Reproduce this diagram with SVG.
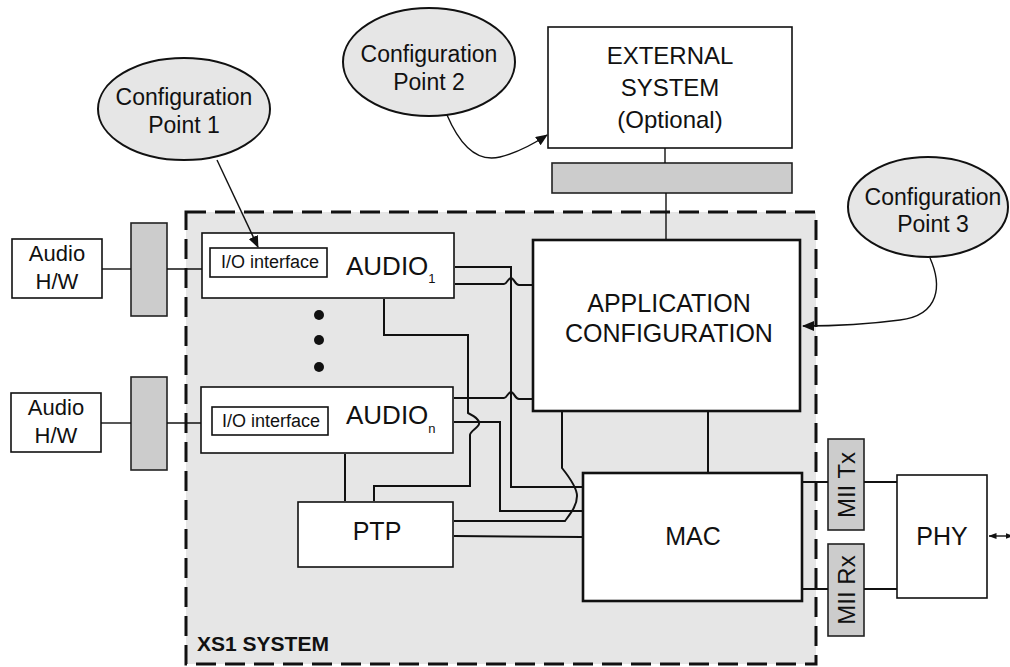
<svg xmlns="http://www.w3.org/2000/svg" width="1010" height="667" viewBox="0 0 1010 667">
  <style>
    text { font-family: "Liberation Sans", Arial, sans-serif; fill: #111; }
    .box { fill: #fff; stroke: #111; stroke-width: 1.6; }
    .bold-box { fill: #fff; stroke: #111; stroke-width: 2.6; }
    .bar { fill: #cccccc; stroke: #222; stroke-width: 1.6; }
    .cfg { fill: #e6e6e6; stroke: #111; stroke-width: 2; }
    .wire { fill: none; stroke: #111; stroke-width: 2; }
    .thin { fill: none; stroke: #111; stroke-width: 1.4; }
    .mid { text-anchor: middle; }
  </style>
  <defs>
    <marker id="arrow" viewBox="0 0 12 10" refX="11" refY="5" markerWidth="12" markerHeight="10" markerUnits="userSpaceOnUse" orient="auto">
      <path d="M0,0 L12,5 L0,10 z" fill="#111"/>
    </marker>
    <marker id="small" viewBox="0 0 8 6" refX="7.5" refY="3" markerWidth="8" markerHeight="6" markerUnits="userSpaceOnUse" orient="auto-start-reverse">
      <path d="M0,0 L8,3 L0,6 z" fill="#111"/>
    </marker>
  </defs>

  <!-- XS1 system boundary -->
  <g id="xs1-system">
    <rect x="186" y="212" width="630" height="452" fill="#e6e6e6" stroke="#111" stroke-width="3" stroke-dasharray="20 9"/>
    <text x="197" y="651" font-size="21" font-weight="bold">XS1 SYSTEM</text>
  </g>

  <g id="audio-hw-1">
    <rect class="box" x="12" y="239" width="90" height="59"/>
    <text class="mid" x="57" y="261" font-size="22">Audio</text>
    <text class="mid" x="57" y="289" font-size="22">H/W</text>
  </g>
  <g id="audio-hw-n">
    <rect class="box" x="11" y="393" width="90" height="59"/>
    <text class="mid" x="56" y="415" font-size="22">Audio</text>
    <text class="mid" x="56" y="443" font-size="22">H/W</text>
  </g>
  <g id="connector-1"><rect class="bar" x="131" y="223" width="36" height="93"/></g>
  <g id="connector-n"><rect class="bar" x="131" y="377" width="36" height="93"/></g>

  <g id="audio-1">
    <rect class="box" x="202" y="233" width="252" height="65"/>
    <rect class="box" x="210" y="248" width="117" height="29"/>
    <text x="221" y="268" font-size="18">I/O interface</text>
    <text x="346" y="275" font-size="26">AUDIO<tspan font-size="13" dy="8">1</tspan></text>
  </g>
  <g id="audio-dots">
    <circle cx="319" cy="315" r="5" fill="#111"/>
    <circle cx="319" cy="340" r="5" fill="#111"/>
    <circle cx="319" cy="367" r="5" fill="#111"/>
  </g>
  <g id="audio-n">
    <rect class="box" x="201" y="387" width="252" height="66"/>
    <rect class="box" x="212" y="407" width="116" height="28"/>
    <text x="222" y="427" font-size="18">I/O interface</text>
    <text x="346" y="424" font-size="26">AUDIO<tspan font-size="13" dy="9">n</tspan></text>
  </g>

  <g id="ptp">
    <rect class="box" x="298" y="502" width="155" height="65"/>
    <text class="mid" x="377" y="540" font-size="25">PTP</text>
  </g>

  <g id="app-config">
    <rect class="bold-box" x="533" y="240" width="267" height="171"/>
    <text class="mid" x="669" y="312" font-size="25">APPLICATION</text>
    <text class="mid" x="669" y="342" font-size="25">CONFIGURATION</text>
  </g>

  <g id="mac">
    <rect class="bold-box" x="583" y="473" width="219" height="128"/>
    <text class="mid" x="693" y="545" font-size="25">MAC</text>
  </g>

  <g id="mii-tx">
    <rect class="bar" x="828" y="439" width="36" height="91"/>
    <text class="mid" transform="translate(855,485) rotate(-90)" font-size="24">MII Tx</text>
  </g>
  <g id="mii-rx">
    <rect class="bar" x="828" y="544" width="36" height="92"/>
    <text class="mid" transform="translate(855,590) rotate(-90)" font-size="24">MII Rx</text>
  </g>

  <g id="phy">
    <rect class="box" x="897" y="475" width="90" height="123"/>
    <text class="mid" x="942" y="545" font-size="25">PHY</text>
  </g>

  <g id="external-system">
    <rect class="box" x="548" y="27" width="244" height="121"/>
    <text class="mid" x="670" y="64" font-size="24">EXTERNAL</text>
    <text class="mid" x="670" y="96" font-size="24">SYSTEM</text>
    <text class="mid" x="670" y="128" font-size="24">(Optional)</text>
  </g>
  <g id="external-connector">
    <rect class="bar" x="552" y="163" width="240" height="30"/>
  </g>

  <g id="config-point-1">
    <ellipse class="cfg" cx="184" cy="109" rx="86" ry="51"/>
    <text class="mid" x="184" y="105" font-size="23">Configuration</text>
    <text class="mid" x="184" y="133" font-size="23">Point 1</text>
  </g>
  <g id="config-point-2">
    <ellipse class="cfg" cx="429" cy="62" rx="86" ry="54"/>
    <text class="mid" x="429" y="62" font-size="23">Configuration</text>
    <text class="mid" x="429" y="90" font-size="23">Point 2</text>
  </g>
  <g id="config-point-3">
    <ellipse class="cfg" cx="928" cy="207" rx="80" ry="50"/>
    <text class="mid" x="933" y="205" font-size="23">Configuration</text>
    <text class="mid" x="933" y="232" font-size="23">Point 3</text>
  </g>

  <!-- connectors, drawn last so arrowheads sit on top of the boxes -->
  <g id="connectors">
    <!-- audio hardware to audio blocks -->
    <line class="thin" x1="102" y1="269" x2="131" y2="269"/>
    <line class="thin" x1="167" y1="269" x2="202" y2="269"/>
    <line class="thin" x1="101" y1="423" x2="131" y2="423"/>
    <line class="thin" x1="167" y1="423" x2="201" y2="423"/>
    <!-- external system link -->
    <line class="thin" x1="665" y1="148" x2="665" y2="163"/>
    <line class="thin" x1="666" y1="193" x2="666" y2="239"/>
    <!-- AUDIO1 to MAC -->
    <path class="wire" d="M455,267 L511,267 L511,487 L582,487"/>
    <!-- AUDIO1 to APP CONFIG (hops over) -->
    <path class="wire" d="M455,284 L504,284 C507,284 508,278 511,278 C514,278 515,285 519,285 L532,285"/>
    <!-- AUDIO1 to PTP -->
    <path class="wire" d="M384,299 L384,335 L468,335 L468,413 C476,417 480,421 479,424 C478,428 470,431 470,435 L470,486 L374,486 L374,501"/>
    <!-- AUDIOn to APP CONFIG -->
    <path class="wire" d="M454,398 L504,398 C507,398 508,392 511,392 C514,392 515,399 519,399 L532,399"/>
    <!-- AUDIOn to MAC -->
    <path class="wire" d="M454,422 L500,422 L500,511 L582,511"/>
    <!-- AUDIOn to PTP -->
    <line class="wire" x1="345" y1="454" x2="345" y2="501"/>
    <!-- APP CONFIG to PTP -->
    <path class="wire" d="M562,412 L562,468 C570,478 577,488 577,496 C577,506 570,514 565,521 L454,521"/>
    <!-- PTP to MAC -->
    <line class="wire" x1="454" y1="536" x2="582" y2="537"/>
    <!-- APP CONFIG to MAC -->
    <line class="wire" x1="708" y1="412" x2="708" y2="472"/>
    <!-- MAC to MII to PHY -->
    <line class="wire" x1="803" y1="482" x2="828" y2="482"/>
    <line class="wire" x1="864" y1="482" x2="897" y2="482"/>
    <line class="wire" x1="803" y1="589" x2="828" y2="589"/>
    <line class="wire" x1="864" y1="589" x2="897" y2="589"/>
    <!-- PHY line side -->
    <line x1="989" y1="536" x2="1013" y2="536" stroke="#111" stroke-width="1.4" marker-start="url(#small)" marker-end="url(#small)"/>
    <!-- configuration point arrows -->
    <line class="thin" x1="217" y1="160" x2="258" y2="247" marker-end="url(#arrow)" stroke-width="1.8"/>
    <path class="thin" d="M447,115 C462,150 480,162 500,157 C520,152 535,143 547,135" marker-end="url(#arrow)" stroke-width="1.8"/>
    <path class="thin" d="M930,258 C942,285 940,315 900,320 C870,324 840,326 803,326" marker-end="url(#arrow)" stroke-width="1.8"/>
  </g>
</svg>
